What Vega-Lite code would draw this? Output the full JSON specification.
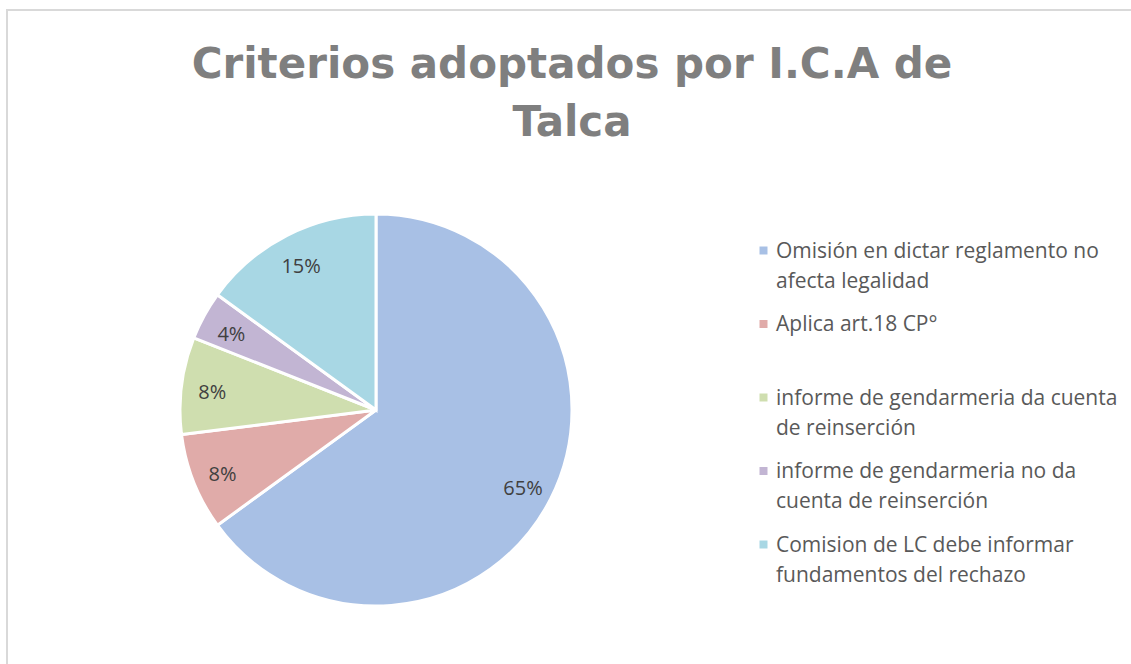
{
  "$schema": "https://vega.github.io/schema/vega-lite/v6.json",
  "autosize": {"type": "none"},
  "padding": {"left": 7, "top": 10, "right": 0, "bottom": 0},
  "width": 1200,
  "height": 700,
  "background": "white",
  "view": {"stroke": "#d9d9d9", "strokeWidth": 2},
  "config": {
    "style": {"guide-label": {"lineHeight": 30, "dy": 7}}
  },
  "title": {
    "text": ["Criterios adoptados por I.C.A de", "Talca"],
    "font": "DejaVu Sans",
    "fontSize": 42,
    "fontWeight": "bold",
    "color": "#7f7f7f",
    "lineHeight": 58,
    "anchor": "middle",
    "frame": "group",
    "orient": "top",
    "offset": -135,
    "dx": -35
  },
  "data": {
    "values": [
      {"criterio": "Omisión en dictar reglamento no|afecta legalidad", "orden": 1, "valor": 65, "etiqueta": "65%"},
      {"criterio": "Aplica art.18 CP°", "orden": 2, "valor": 8, "etiqueta": "8%"},
      {"criterio": "informe de gendarmeria da cuenta|de reinserción", "orden": 3, "valor": 8, "etiqueta": "8%"},
      {"criterio": "informe de gendarmeria  no da|cuenta de reinserción", "orden": 4, "valor": 4, "etiqueta": "4%"},
      {"criterio": "Comision de LC debe informar|fundamentos del rechazo", "orden": 5, "valor": 15, "etiqueta": "15%"}
    ]
  },
  "encoding": {
    "theta": {"field": "valor", "type": "quantitative", "stack": true},
    "order": {"field": "orden", "type": "quantitative"},
    "color": {
      "field": "criterio",
      "type": "nominal",
      "sort": null,
      "scale": {
        "domain": [
          "Omisión en dictar reglamento no|afecta legalidad",
          "Aplica art.18 CP°",
          "informe de gendarmeria da cuenta|de reinserción",
          "informe de gendarmeria  no da|cuenta de reinserción",
          "Comision de LC debe informar|fundamentos del rechazo"
        ],
        "range": ["#a8c0e5", "#e0aba9", "#cfdeaf", "#c2b5d3", "#a8d7e4"]
      },
      "legend": {
        "title": null,
        "orient": "none",
        "legendX": 746,
        "legendY": 230,
        "symbolType": "square",
        "symbolSize": 64,
        "symbolStrokeWidth": 0,
        "labelFont": "Open Sans",
        "labelFontSize": 21,
        "labelColor": "#595959",
        "labelLimit": 400,
        "labelOffset": 2,
        "rowPadding": 21.5,
        "gridAlign": "all",
        "labelBaseline": "alphabetic",
        "labelExpr": "split(datum.label, '|')"
      }
    }
  },
  "layer": [
    {
      "mark": {"type": "arc", "outerRadius": 196, "x": 369, "y": 400, "stroke": "white", "strokeWidth": 3}
    },
    {
      "mark": {"type": "text", "radius": 165, "x": 369, "y": 404, "font": "Open Sans", "fontSize": 20},
      "encoding": {
        "text": {"field": "etiqueta"},
        "color": {"value": "#404040"}
      }
    }
  ]
}
